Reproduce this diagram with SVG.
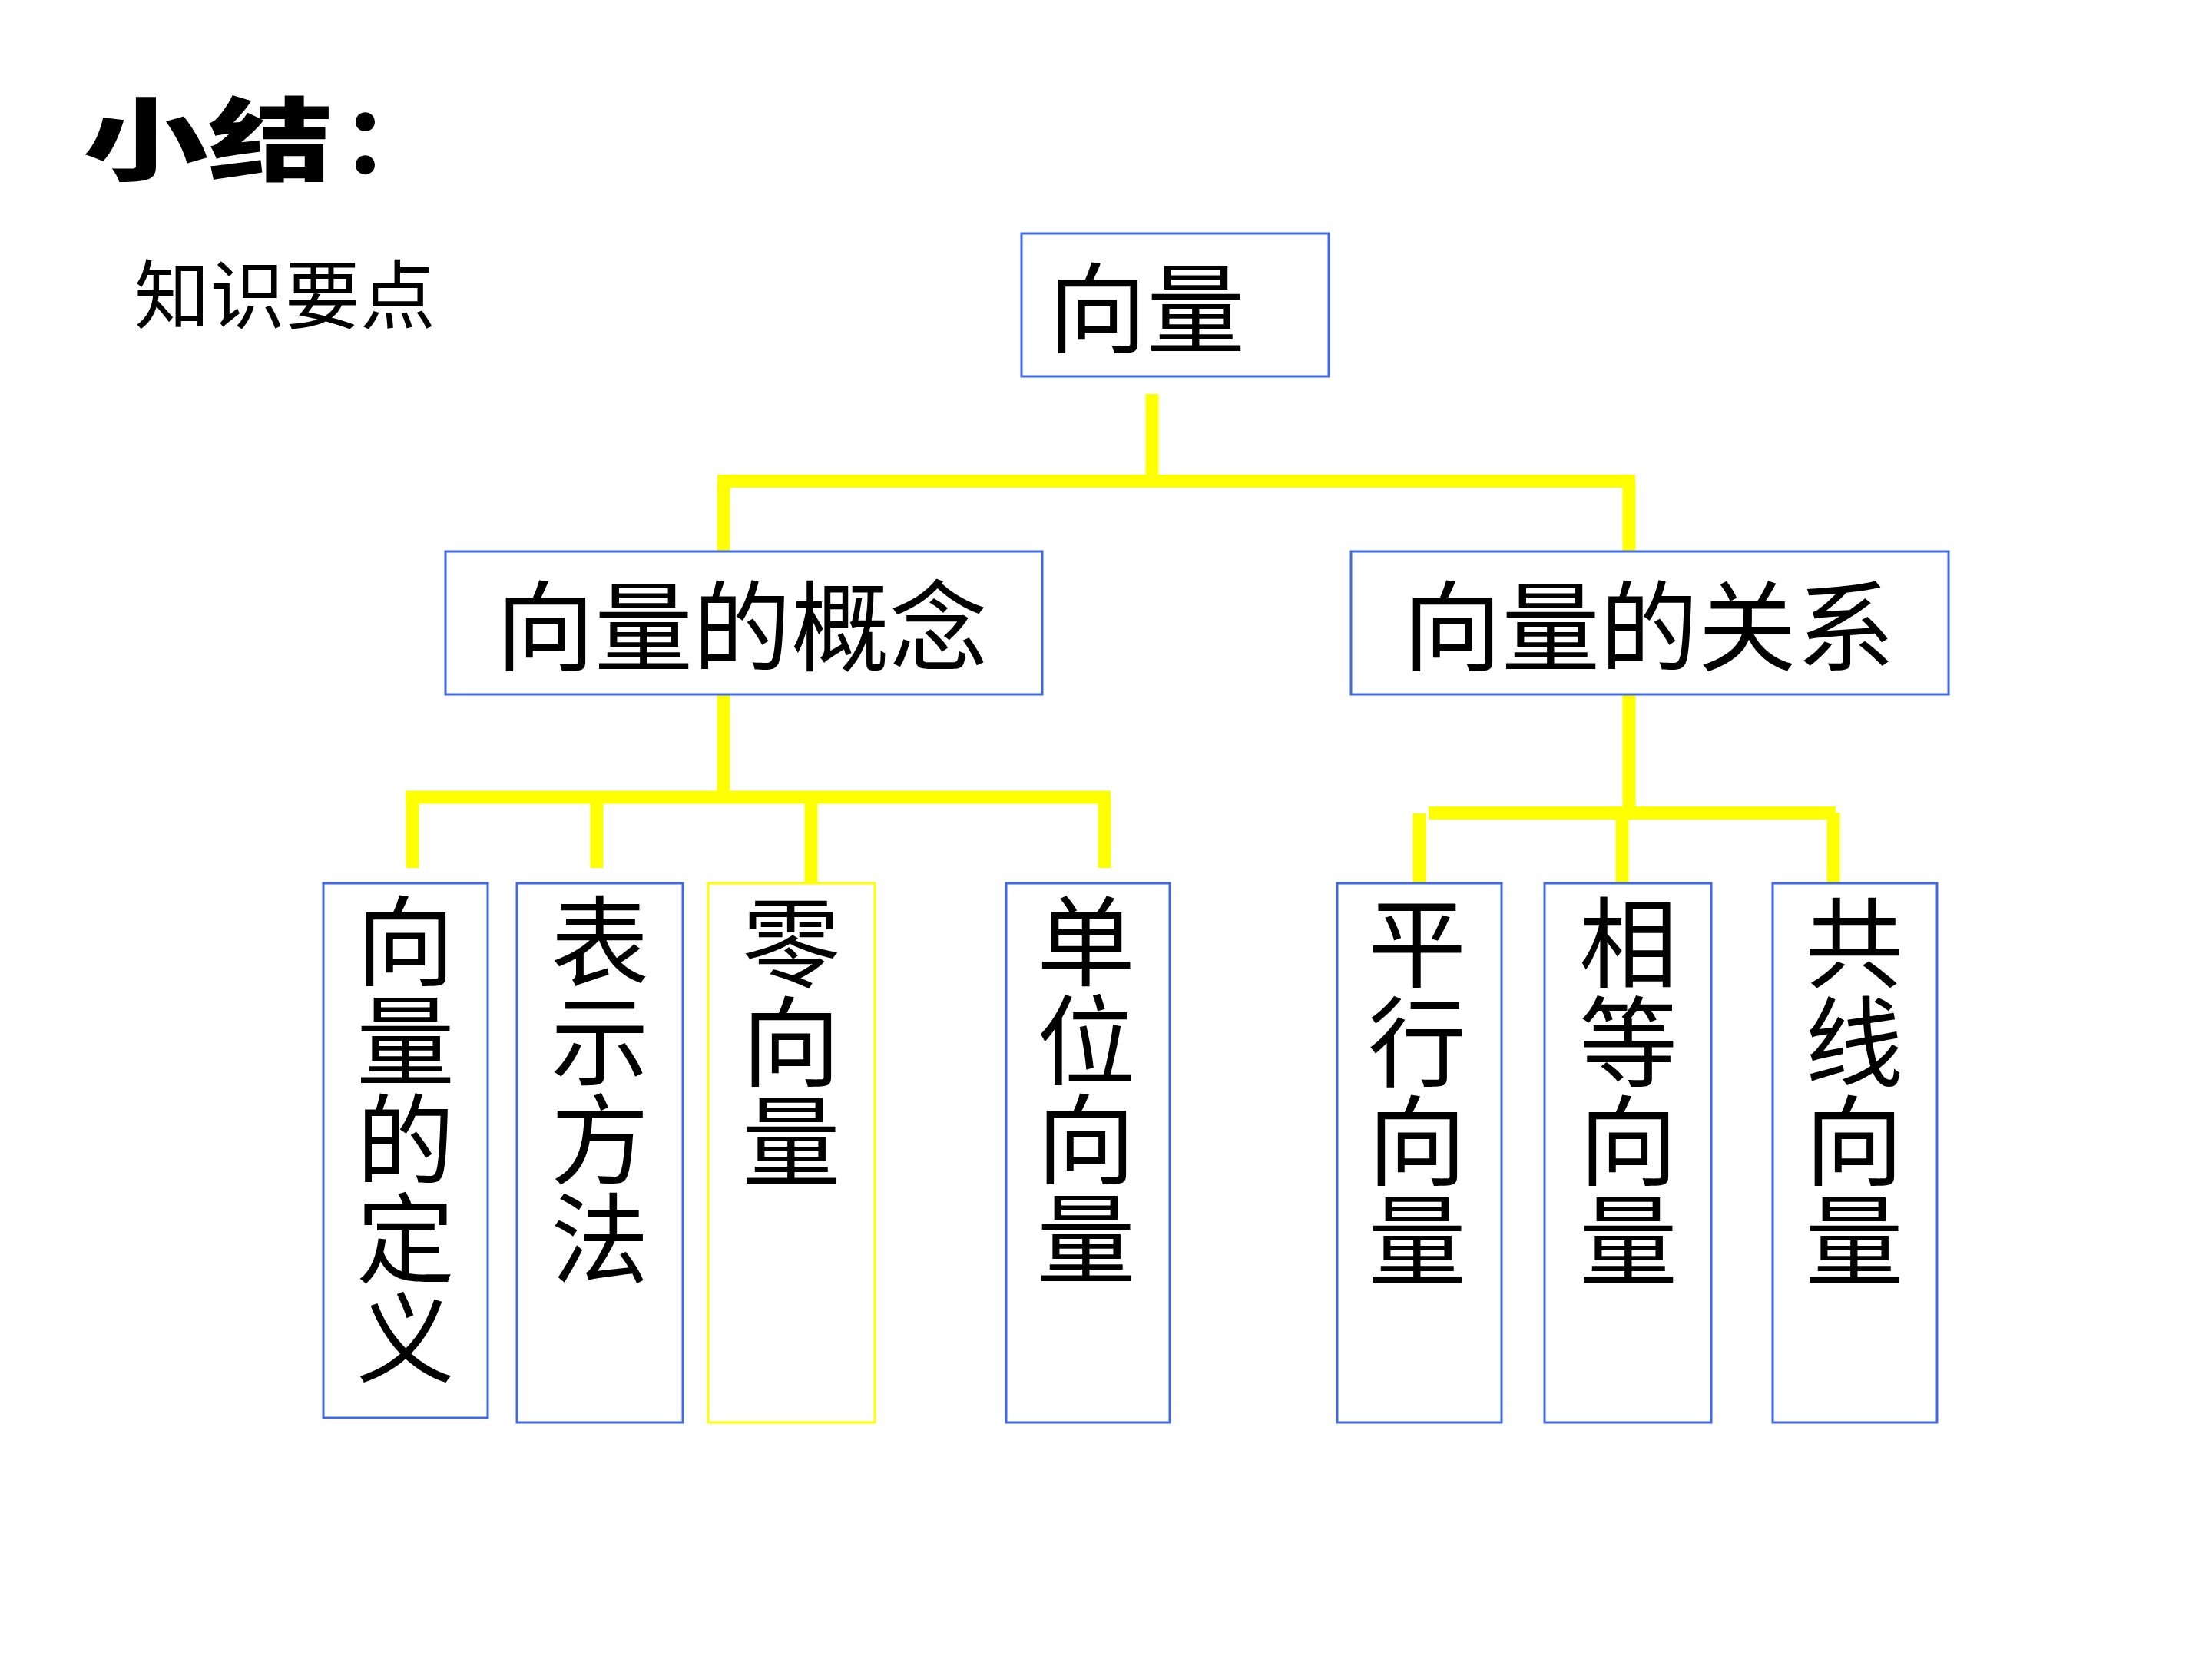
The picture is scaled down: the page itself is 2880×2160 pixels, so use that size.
<svg xmlns="http://www.w3.org/2000/svg" width="2880" height="2160" viewBox="0 0 2880 2160">
<style>
  .box { fill: #FFFFFF; stroke: #4169E1; stroke-width: 3; }
  .ybox { fill: #FFFFFF; stroke: #FFFF00; stroke-width: 3; }
  .conn { fill: none; stroke: #FFFF00; stroke-width: 17; stroke-linecap: butt; }
  .lbl { font-family: "Noto Sans CJK SC", "Noto Sans", sans-serif; font-size: 128px; fill: #000000; }
  .vlbl { font-family: "Noto Sans CJK SC", "Noto Sans", sans-serif; font-size: 128px; fill: #000000; writing-mode: vertical-rl; letter-spacing: 1px; }
  .ttl { font-family: "Noto Sans CJK SC", sans-serif; font-size: 118px; font-weight: 900; fill: #000000; }
</style>
<rect x="0" y="0" width="2880" height="2160" fill="#FFFFFF"/>

<g id="title">
  <text class="ttl" x="108" y="226" textLength="326" lengthAdjust="spacingAndGlyphs">小结</text>
  <text class="ttl" x="446" y="226">：</text>
</g>
<g id="subtitle">
  <text x="175" y="420" font-family="'Noto Sans CJK SC', sans-serif" font-size="98" fill="#000000">知识要点</text>
</g>

<g id="connectors">
  <path class="conn" d="M1500 513 V627"/>
  <path class="conn" d="M934 626.5 H2129"/>
  <path class="conn" d="M942 627 V722"/>
  <path class="conn" d="M2121 630 V722"/>

  <path class="conn" d="M942 904 V1038"/>
  <path class="conn" d="M528 1038 H1446"/>
  <path class="conn" d="M537 1038 V1130"/>
  <path class="conn" d="M777 1038 V1130"/>
  <path class="conn" d="M1056 1038 V1157"/>
  <path class="conn" d="M1438 1038 V1130"/>

  <path class="conn" d="M2121 904 V1058"/>
  <path class="conn" d="M1860 1058.5 H2390"/>
  <path class="conn" d="M1848 1059 V1154"/>
  <path class="conn" d="M2112 1058 V1152"/>
  <path class="conn" d="M2387 1058 V1152"/>
</g>

<g id="node-root">
  <rect class="box" x="1330" y="304" width="400" height="186"/>
  <text class="lbl" x="1365" y="450">向量</text>
</g>

<g id="node-concept">
  <rect class="box" x="580" y="718" width="777" height="186"/>
  <text class="lbl" x="646" y="864">向量的概念</text>
</g>

<g id="node-relation">
  <rect class="box" x="1759" y="718" width="778" height="186"/>
  <text class="lbl" x="1827" y="864">向量的关系</text>
</g>

<g id="node-definition">
  <rect class="box" x="421" y="1150" width="214" height="696"/>
  <text class="vlbl" x="528" y="1161">向量的定义</text>
</g>

<g id="node-representation">
  <rect class="box" x="673" y="1150" width="216" height="702"/>
  <text class="vlbl" x="781" y="1161">表示方法</text>
</g>

<g id="node-zero">
  <rect class="ybox" x="922" y="1150" width="217" height="702"/>
  <text class="vlbl" x="1030" y="1163">零向量</text>
</g>

<g id="node-unit">
  <rect class="box" x="1310" y="1150" width="213" height="702"/>
  <text class="vlbl" x="1414" y="1161">单位向量</text>
</g>

<g id="node-parallel">
  <rect class="box" x="1741" y="1150" width="214" height="702"/>
  <text class="vlbl" x="1845" y="1163">平行向量</text>
</g>

<g id="node-equal">
  <rect class="box" x="2011" y="1150" width="217" height="702"/>
  <text class="vlbl" x="2120" y="1163">相等向量</text>
</g>

<g id="node-collinear">
  <rect class="box" x="2308" y="1150" width="214" height="702"/>
  <text class="vlbl" x="2414" y="1163">共线向量</text>
</g>
</svg>
